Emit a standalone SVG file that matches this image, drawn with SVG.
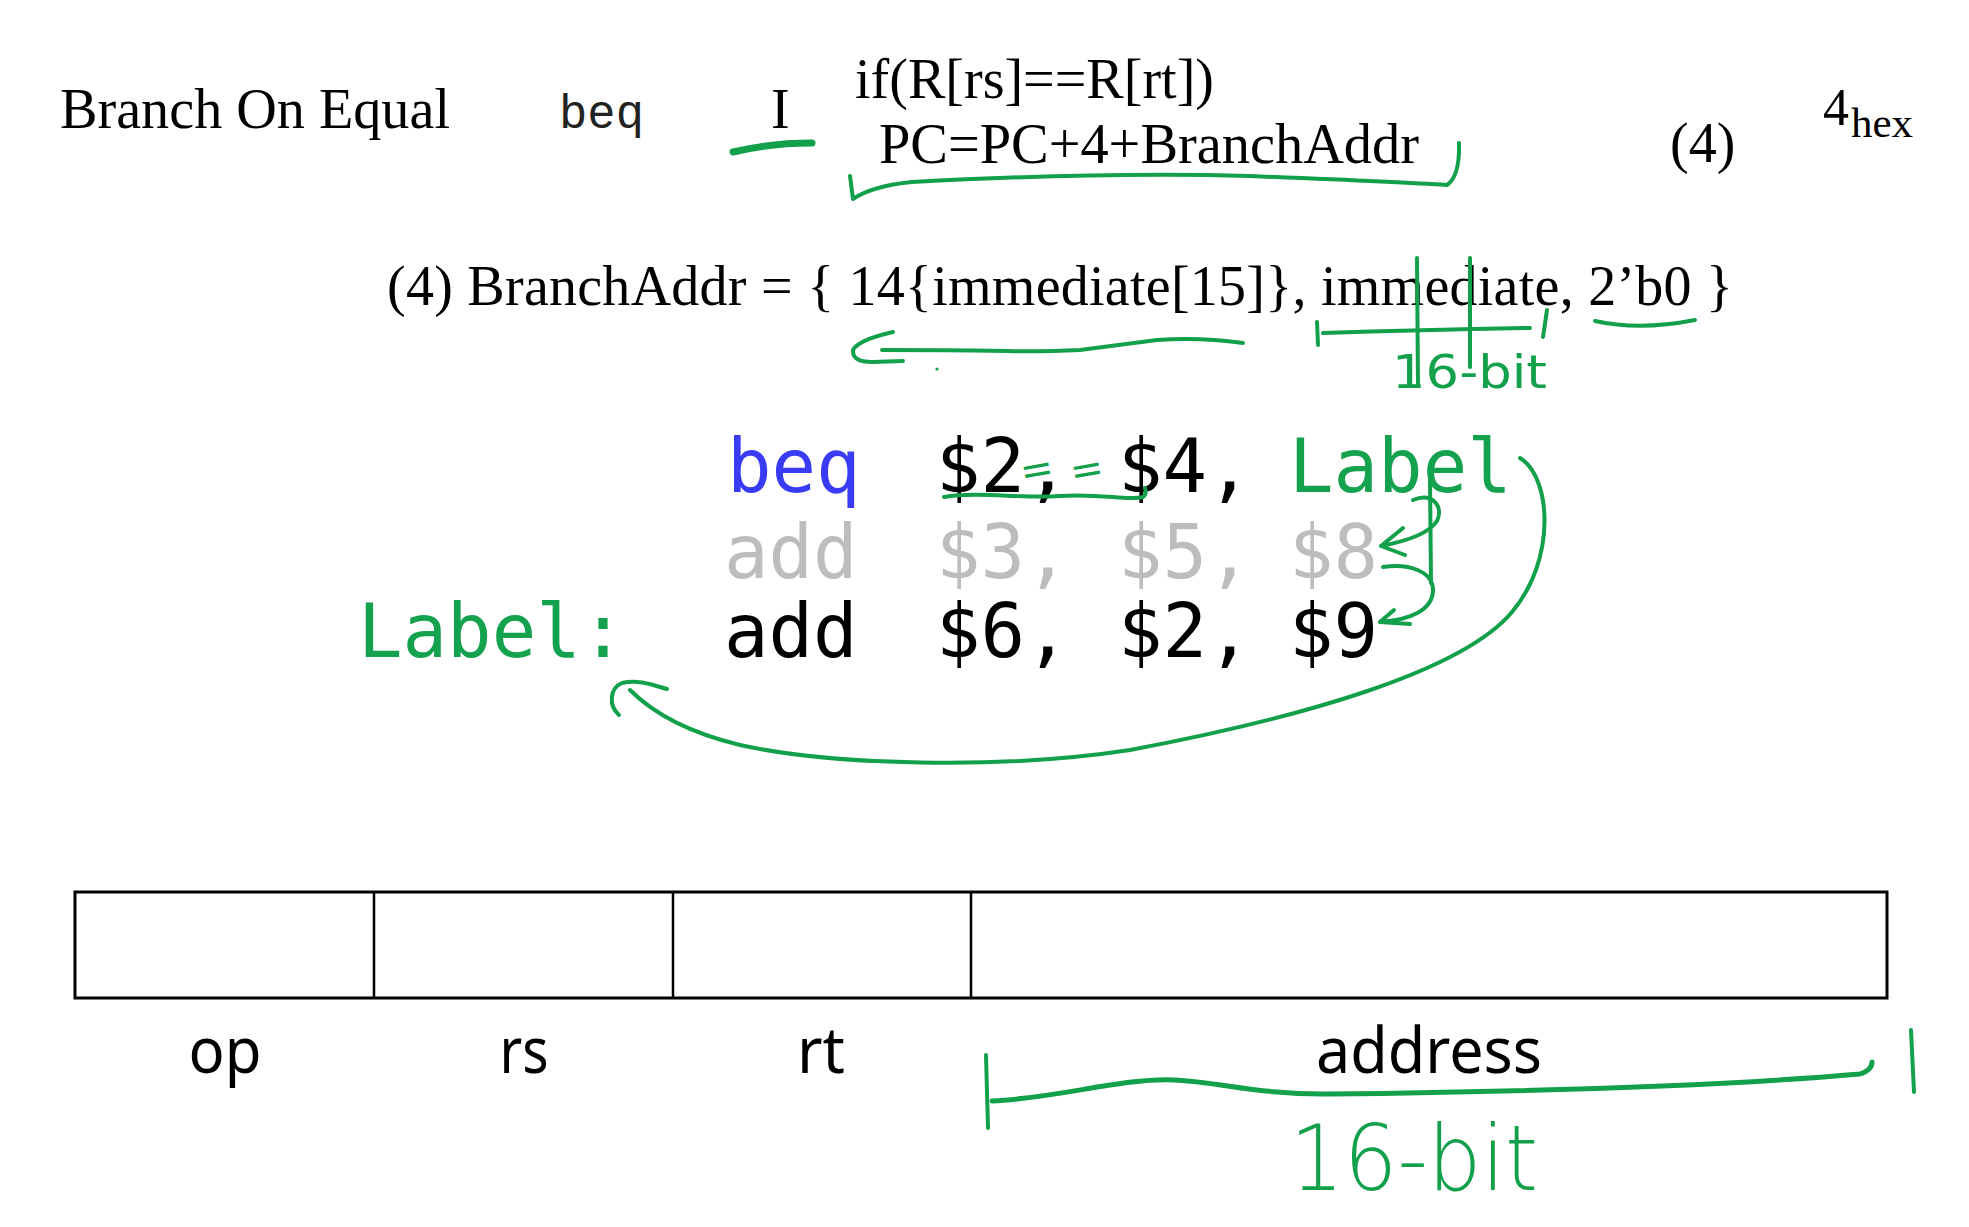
<svg xmlns="http://www.w3.org/2000/svg" width="1969" height="1227" viewBox="0 0 1969 1227">
<style>
.serif{font-family:"Liberation Serif","Times New Roman",serif;fill:#000}
.mono{font-family:"DejaVu Sans Mono",monospace;font-size:74px}
.blk{fill:#000}
.grey{fill:#bdbdbd}
.blue{fill:#3a3cf5}
.gtxt{fill:#15a24f}
.hand{font-family:"DejaVu Sans",sans-serif;fill:#12a04b}
.thin{font-weight:200}
.ink{fill:none;stroke:#12a04b;stroke-width:4;stroke-linecap:round;stroke-linejoin:round}
.lbl{font-family:"Noto Sans","Open Sans",sans-serif;font-size:64px;fill:#000;text-anchor:middle}
.cell{fill:#fff;stroke:#000;stroke-width:3}
.div{stroke:#000;stroke-width:2.5}
</style>
<rect x="0" y="0" width="1969" height="1227" fill="#fff"/>

<g id="row-header">
<text class="serif" x="60" y="128" font-size="56" textLength="390" lengthAdjust="spacingAndGlyphs">Branch On Equal</text>
<text x="559" y="128" font-family="Liberation Mono,Courier New,monospace" font-size="48" fill="#222" textLength="85" lengthAdjust="spacingAndGlyphs">beq</text>
<text class="serif" x="771" y="128" font-size="56">I</text>
<text class="serif" x="855" y="98" font-size="56" textLength="359" lengthAdjust="spacingAndGlyphs">if(R[rs]==R[rt])</text>
<text class="serif" x="879" y="163" font-size="56" textLength="540" lengthAdjust="spacingAndGlyphs">PC=PC+4+BranchAddr</text>
<text class="serif" x="1670" y="162" font-size="56">(4)</text>
<text class="serif" x="1823" y="125" font-size="52">4</text>
<text class="serif" x="1851" y="137" font-size="43" textLength="62" lengthAdjust="spacingAndGlyphs">hex</text>
</g>

<g id="branchaddr-def">
<text class="serif" x="387" y="305" font-size="56" textLength="1346" lengthAdjust="spacing">(4) BranchAddr = { 14{immediate[15]}, immediate, 2’b0 }</text>
</g>

<g id="code">
<text class="mono blue" x="727" y="492">beq</text>
<text class="mono blk" x="936" y="492">$2,</text>
<text class="mono blk" x="1118" y="492">$4,</text>
<text class="mono gtxt" x="1289" y="492">Label</text>
<text class="mono grey" x="724" y="578">add</text>
<text class="mono grey" x="936" y="578">$3,</text>
<text class="mono grey" x="1118" y="578">$5,</text>
<text class="mono grey" x="1289" y="578">$8</text>
<text class="mono gtxt" x="358" y="657">Label:</text>
<text class="mono blk" x="724" y="657">add</text>
<text class="mono blk" x="936" y="657">$6,</text>
<text class="mono blk" x="1118" y="657">$2,</text>
<text class="mono blk" x="1289" y="657">$9</text>
</g>

<g id="instruction-format">
<rect class="cell" x="75" y="892" width="1812" height="106"/>
<line class="div" x1="374" y1="892" x2="374" y2="998"/>
<line class="div" x1="673" y1="892" x2="673" y2="998"/>
<line class="div" x1="971" y1="892" x2="971" y2="998"/>
<text class="lbl" x="225" y="1073" textLength="73" lengthAdjust="spacingAndGlyphs">op</text>
<text class="lbl" x="524" y="1073" textLength="49" lengthAdjust="spacingAndGlyphs">rs</text>
<text class="lbl" x="821" y="1073" textLength="48" lengthAdjust="spacingAndGlyphs">rt</text>
<text class="lbl" x="1429" y="1073" textLength="226" lengthAdjust="spacingAndGlyphs">address</text>
</g>

<g id="annotation-labels">
<text class="hand" x="1020" y="483" font-size="40" transform="rotate(-10 1036 470)">=</text>
<text class="hand" x="1070" y="483" font-size="40" transform="rotate(-10 1086 470)">=</text>
<text class="hand" x="1392" y="388" font-size="46" textLength="155" lengthAdjust="spacingAndGlyphs">16-bit</text>
<text class="hand thin" x="1290" y="1190" font-size="90" textLength="248" lengthAdjust="spacingAndGlyphs">16-bit</text>
</g>

<g id="connectors">
<path class="ink" style="stroke-width:7" d="M733,152 Q770,143 812,143"/>
<path class="ink" d="M850,176 L853,199 Q872,186 912,182 Q1100,172 1250,176 Q1400,182 1447,185 Q1460,176 1459,143"/>
<path class="ink" d="M1243,343 Q1200,337 1157,340 Q1110,346 1080,350 Q1040,352 1007,351 Q940,350 882,350"/>
<path class="ink" d="M893,332 Q858,340 853,350 Q852,362 872,362 L903,361"/>
<circle cx="937" cy="369" r="1.6" fill="#12a04b"/>
<path class="ink" d="M1317,322 L1318,345"/>
<path class="ink" d="M1323,333 Q1420,330 1530,328"/>
<path class="ink" d="M1417,258 L1418,386"/>
<path class="ink" d="M1470,258 L1470,367"/>
<path class="ink" d="M1547,310 L1543,337"/>
<path class="ink" d="M1595,321 Q1640,331 1695,320"/>
<path class="ink" d="M944,497 C980,491 1020,499 1060,496 C1100,493 1128,501 1143,497 Q1147,494 1145,488"/>
<path class="ink" d="M1430,480 L1431,583"/>
<path class="ink" d="M1413,500 C1432,492 1444,506 1437,521 C1428,535 1402,542 1381,546 M1403,528 L1381,546 L1405,555"/>
<path class="ink" d="M1383,567 C1410,563 1433,572 1433,590 C1433,610 1410,620 1380,622 M1394,610 L1380,622 L1410,624"/>
<path class="ink" d="M1520,458 C1552,478 1556,560 1512,612 C1462,672 1300,718 1130,750 C1000,770 830,765 740,745 C690,733 655,715 630,690"/>
<path class="ink" d="M619,715 C608,705 610,688 622,683 C640,679 655,686 667,689"/>
<path class="ink" d="M986,1055 L988,1128"/>
<path class="ink" style="stroke-width:5" d="M992,1101 C1060,1098 1120,1078 1174,1080 C1220,1082 1260,1095 1330,1094 C1500,1092 1700,1088 1860,1074 Q1872,1070 1872,1062"/>
<path class="ink" d="M1911,1030 L1914,1092"/>
</g>
</svg>
